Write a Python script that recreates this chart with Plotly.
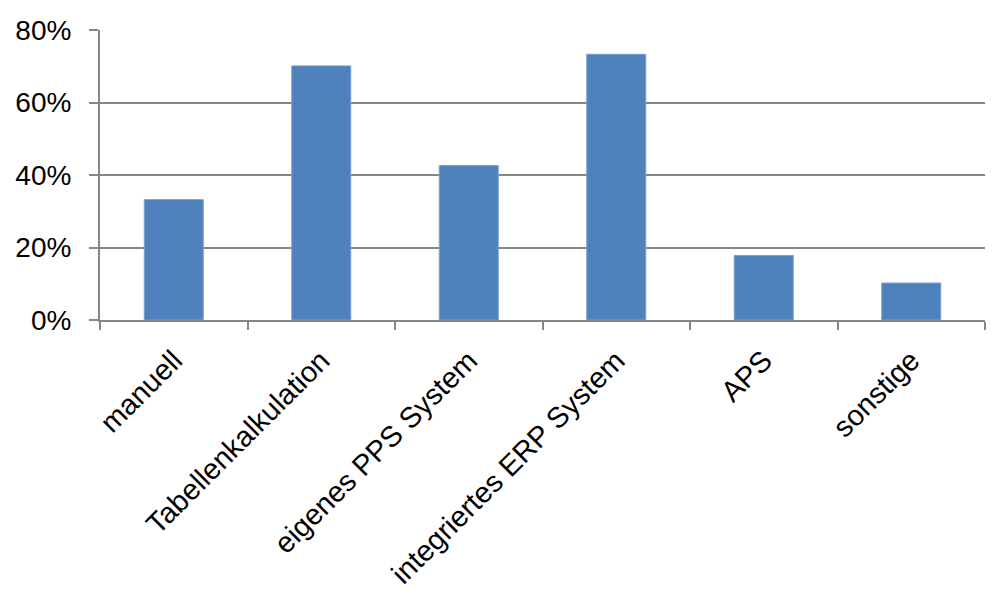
import plotly.graph_objects as go

categories = ['manuell', 'Tabellenkalkulation', 'eigenes PPS System',
              'integriertes ERP System', 'APS', 'sonstige']
shares = [33.2, 70.1, 42.6, 73.3, 17.8, 10.2]  # percent
y_ticks = [0, 20, 40, 60, 80]
y_labels = [f'{v}%' for v in y_ticks]

grey = '#868686'

fig = go.Figure()
fig.add_trace(go.Bar(
    x=categories, y=shares,
    marker=dict(color='#4F81BD', line=dict(color='#7a9fd0', width=1)),
))

# page body adds 8px, margins are set so the plot lands at x 100-985, y 30-320
fig.update_layout(
    width=1008, height=601,
    margin=dict(l=92, r=31, t=22, b=289),
    plot_bgcolor='white', paper_bgcolor='white',
    bargap=0.6, showlegend=False,
    font=dict(family='Liberation Sans, Arial, sans-serif', size=28, color='black'),
)
fig.update_xaxes(
    showline=True, linecolor=grey, linewidth=2,
    ticks='outside', tickson='boundaries', ticklen=8, tickcolor=grey, tickwidth=2,
    tickangle=-45, tickfont=dict(size=29), ticklabelstandoff=10,
    showgrid=False, automargin=False,
)
fig.update_yaxes(
    range=[0, 80], tickvals=y_ticks, ticktext=y_labels,
    showline=True, linecolor=grey, linewidth=2,
    ticks='outside', ticklen=9, tickcolor=grey, tickwidth=2, ticklabelstandoff=12,
    showgrid=True, gridcolor=grey, gridwidth=2, zeroline=False,
    automargin=False,
)

fig.write_html("out.html")
